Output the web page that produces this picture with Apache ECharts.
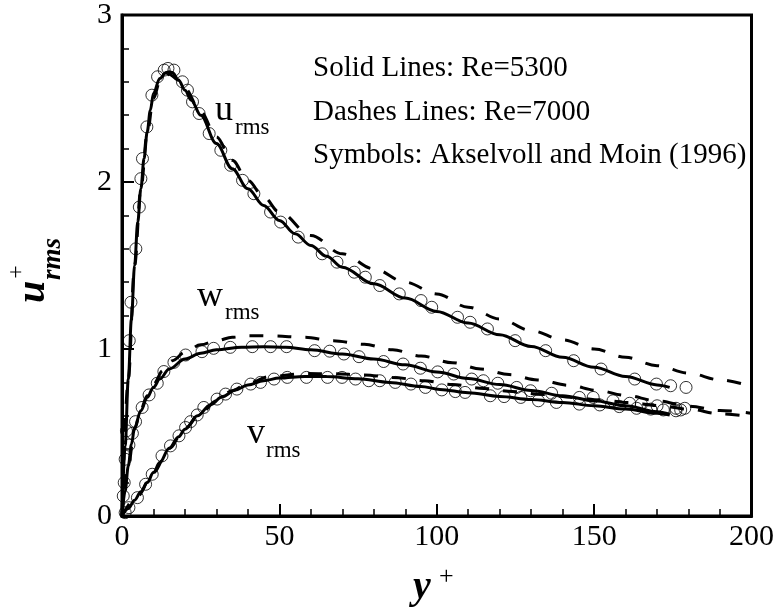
<!DOCTYPE html>
<html>
<head>
<meta charset="utf-8">
<script src="https://cdn.jsdelivr.net/npm/echarts@6/dist/echarts.min.js"></script>
<style>
html,body{margin:0;padding:0;background:#fff;}
#chart{width:777px;height:614px;}
</style>
</head>
<body>
<div id="chart"></div>
<script>
// ---- Data (y+, value) ----
const uSolid = [[0,0],[1,0.42],[2,0.82],[3,1.18],[4,1.5],[5,1.76],[6,1.96],[7,2.14],[8,2.3],[9,2.43],[10,2.53],[12,2.62],[14,2.655],[15,2.66],[16,2.655],[18,2.61],[20,2.55],[22,2.49],[25,2.4],[30,2.23],[35,2.08],[40,1.96],[45,1.86],[50,1.77],[55,1.69],[60,1.62],[65,1.555],[70,1.49],[80,1.39],[90,1.305],[100,1.225],[110,1.155],[120,1.085],[130,1.015],[140,0.95],[150,0.89],[160,0.835],[170,0.785],[174,0.77]];
const uDashed = [[0,0],[2,0.82],[4,1.5],[6,1.96],[8,2.29],[10,2.5],[12,2.6],[15,2.645],[18,2.61],[20,2.56],[25,2.42],[30,2.27],[35,2.13],[40,2.01],[45,1.91],[50,1.82],[60,1.68],[70,1.57],[80,1.48],[90,1.4],[100,1.33],[110,1.25],[120,1.18],[130,1.11],[140,1.055],[150,1.0],[160,0.95],[170,0.9],[180,0.855],[190,0.815],[200,0.775]];
const wSolid = [[0,0],[1,0.15],[2,0.3],[3,0.43],[4,0.53],[6,0.63],[8,0.71],[10,0.77],[12,0.82],[15,0.88],[20,0.94],[25,0.975],[30,0.995],[38,1.01],[45,1.013],[52,1.01],[60,0.995],[70,0.97],[80,0.94],[90,0.905],[100,0.862],[110,0.823],[120,0.787],[130,0.752],[140,0.72],[150,0.69],[160,0.66],[170,0.625],[174,0.61]];
const wDashed = [[0,0],[2,0.3],[4,0.52],[6,0.64],[8,0.72],[10,0.79],[13,0.87],[16,0.93],[20,0.98],[25,1.025],[30,1.05],[35,1.07],[40,1.08],[48,1.078],[58,1.07],[67,1.05],[77,1.028],[86,0.995],[95,0.958],[105,0.918],[114,0.88],[123,0.847],[132,0.815],[142,0.783],[151,0.752],[160,0.722],[170,0.69],[180,0.658],[190,0.632],[200,0.615]];
const vSolid = [[0,0],[2,0.045],[4,0.095],[6,0.145],[8,0.2],[10,0.26],[12,0.32],[15,0.405],[18,0.475],[20,0.52],[24,0.6],[28,0.665],[32,0.715],[36,0.755],[40,0.785],[45,0.81],[50,0.826],[58,0.836],[65,0.835],[75,0.822],[85,0.8],[95,0.776],[101,0.758],[110,0.738],[120,0.716],[130,0.698],[140,0.68],[150,0.66],[160,0.64],[170,0.615],[174,0.605]];
const vDashed = [[0,0],[5,0.12],[10,0.26],[15,0.405],[20,0.525],[25,0.615],[30,0.69],[35,0.75],[40,0.795],[47,0.835],[58,0.853],[67,0.852],[77,0.845],[86,0.83],[96,0.81],[105,0.787],[115,0.764],[124,0.745],[134,0.727],[143,0.71],[152,0.695],[161,0.68],[170,0.662],[180,0.64],[190,0.612],[200,0.595]];
const uSymbols = [[0.4,0.12],[0.7,0.2],[1.0,0.34],[1.4,0.51],[2.3,1.05],[2.85,1.28],[4.4,1.6],[5.5,1.85],[6.0,2.02],[6.5,2.14],[7.9,2.33],[9.5,2.52],[11.3,2.63],[13.4,2.67],[14.6,2.68],[16.5,2.67],[19.2,2.6],[20.8,2.55],[22.4,2.48],[24.5,2.41],[27.7,2.29],[31.4,2.19],[34.5,2.1],[38.3,2.01],[41.9,1.93],[47.2,1.82],[50.4,1.76],[56,1.67],[63.6,1.57],[68.3,1.52],[73.8,1.46],[77.3,1.43],[81.9,1.38],[88.1,1.33],[95,1.29],[98.4,1.25],[106.6,1.19],[110.6,1.16],[116.1,1.12],[124.9,1.05],[134.6,0.99],[143.5,0.93],[152.2,0.88],[162.9,0.82],[169.8,0.79],[174.3,0.78],[179.2,0.77]];
const wSymbols = [[2.2,0.425],[3.3,0.495],[4.3,0.565],[6.4,0.65],[8.6,0.725],[11.2,0.795],[13.3,0.865],[16.5,0.92],[20.2,0.964],[25.4,0.984],[29.1,1.004],[34.4,1.01],[41.4,1.014],[47.2,1.014],[52.3,1.014],[61.2,0.99],[66,0.987],[70.5,0.97],[75.3,0.954],[83.1,0.925],[89.3,0.91],[94.8,0.885],[100.3,0.863],[105.4,0.85],[111.1,0.82],[114.8,0.81],[119.4,0.795],[125.4,0.77],[129.8,0.75],[136.5,0.735],[145.3,0.71],[149.7,0.71],[156,0.69],[161.3,0.675],[165,0.67],[170,0.66],[176,0.645],[178.8,0.645]];
const vSymbols = [[1,0.02],[2.2,0.05],[4.9,0.11],[7.5,0.19],[9.6,0.25],[12.7,0.36],[15.4,0.42],[18.1,0.48],[20.2,0.53],[21.8,0.565],[23.9,0.605],[26,0.65],[30.2,0.7],[32.9,0.73],[36.5,0.76],[40.9,0.79],[44,0.8],[48.3,0.82],[52.5,0.83],[58.6,0.83],[65.3,0.83],[69.9,0.83],[74.2,0.82],[78.4,0.81],[81.9,0.81],[86.8,0.8],[91.8,0.79],[96.4,0.77],[101.6,0.755],[105.9,0.745],[109,0.74],[117,0.72],[121.4,0.715],[126.7,0.71],[132.3,0.69],[138,0.68],[145.3,0.67],[151.8,0.665],[158,0.655],[163.5,0.645],[168,0.64],[172,0.635],[176,0.63],[177.5,0.635]];
const xTicks = {min:0, max:200, step:50};
const yTicks = {min:0, max:3, step:1};
const legendLines = ['Solid Lines: Re=5300','Dashes Lines: Re=7000','Symbols: Akselvoll and Moin (1996)'];

const FONT = '"Liberation Serif","Times New Roman",serif';
const chart = echarts.init(document.getElementById('chart'), null, {renderer:'canvas'});

function lineSeries(data, dashed){
  return {
    type:'line', data:data, showSymbol:false, symbol:'none',
    smooth:0.35, smoothMonotone:'x',
    lineStyle:{color:'#000', width: 3, type: dashed?[14,14]:'solid', cap:'butt'},
    z:3, silent:true
  };
}
function symSeries(data){
  return {
    type:'scatter', data:data, symbol:'circle', symbolSize:12,
    itemStyle:{color:'rgba(0,0,0,0)', borderColor:'#000', borderWidth:1},
    z:2, silent:true
  };
}
function txt(text, x, y, font, opts){
  opts = opts||{};
  return {type:'text', x:x, y:y, rotation:opts.rotation||0, z:10, silent:true,
    style:{text:text, font:font, fill:'#000',
      textAlign:opts.align||'left', textVerticalAlign:'middle'}};
}

const axisCommon = {
  type:'value',
  axisLine:{show:true, onZero:false, lineStyle:{color:'#000', width:3}},
  axisTick:{show:true, inside:true, length:12, lineStyle:{color:'#000', width:2}},
  minorTick:{show:true, splitNumber:5, length:7, lineStyle:{color:'#000', width:1.5}},
  splitLine:{show:false}, minorSplitLine:{show:false},
};

chart.setOption({
  animation:false,
  backgroundColor:'#fff',
  grid:{left:122, right:24, top:15, bottom:98, show:true, borderColor:'#000', borderWidth:3, backgroundColor:'transparent'},
  xAxis:Object.assign({}, axisCommon, {
    min:xTicks.min, max:xTicks.max, interval:xTicks.step,
    axisLabel:{show:true, margin:6, fontSize:30, fontFamily:FONT, color:'#000', showMinLabel:true, showMaxLabel:true}
  }),
  yAxis:Object.assign({}, axisCommon, {
    min:yTicks.min, max:yTicks.max, interval:yTicks.step,
    axisLabel:{show:true, margin:10, fontSize:30, fontFamily:FONT, color:'#000', showMinLabel:true, showMaxLabel:true}
  }),
  series:[
    symSeries(uSymbols), symSeries(wSymbols), symSeries(vSymbols),
    lineSeries(uSolid,false), lineSeries(wSolid,false), lineSeries(vSolid,false),
    lineSeries(uDashed,true), lineSeries(wDashed,true), lineSeries(vDashed,true)
  ],
  graphic:[
    txt(legendLines[0], 313, 68, '29px '+FONT),
    txt(legendLines[1], 313, 112, '29px '+FONT),
    txt(legendLines[2], 313, 155, '29px '+FONT),
    txt('u', 215, 111, '36px '+FONT),
    txt('rms', 235, 128, '23px '+FONT),
    txt('w', 197, 297, '36px '+FONT),
    txt('rms', 225, 313, '23px '+FONT),
    txt('v', 247, 434, '36px '+FONT),
    txt('rms', 266, 451, '23px '+FONT),
    // x axis title
    txt('y', 413, 588, 'italic bold 40px '+FONT),
    txt('+', 439, 577, '26px '+FONT),
    // y axis title (rotated)
    txt('u', 34, 292, 'italic bold 40px '+FONT, {rotation:Math.PI/2, align:'center'}),
    txt('rms', 53, 259, 'italic bold 27px '+FONT, {rotation:Math.PI/2, align:'center'}),
    txt('+', 17, 272, '24px '+FONT, {rotation:Math.PI/2, align:'center'})
  ]
});
</script>
</body>
</html>
